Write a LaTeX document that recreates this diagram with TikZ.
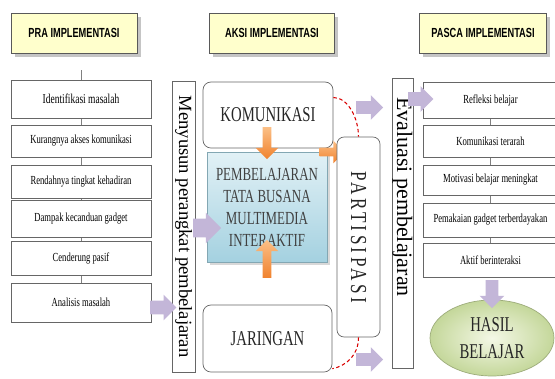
\documentclass[tikz,border=0pt]{standalone}
\usepackage{graphicx}
\usepackage{fontspec}
\setmainfont{Liberation Serif}
\newfontfamily\narrowrm[FakeStretch=0.7]{Liberation Serif}
\newfontfamily\headsf[FakeStretch=0.7]{Liberation Sans}
\newfontfamily\partrm[FakeStretch=0.75,LetterSpace=15]{Liberation Serif}
\usetikzlibrary{shapes.geometric, shapes.arrows, shadows, backgrounds, positioning, calc}

\definecolor{headfill}{HTML}{FFFFCC}
\definecolor{lavdark}{HTML}{C3B6D8}
\definecolor{lavlight}{HTML}{EEEAF5}
\definecolor{orlight}{HTML}{FBBF86}
\definecolor{ordark}{HTML}{F0822E}
\definecolor{pembtop}{HTML}{E2F1F6}
\definecolor{pembbot}{HTML}{A4D1E0}
\definecolor{hasilin}{HTML}{F4F8E6}
\definecolor{hasilout}{HTML}{C4D79A}

\begin{document}
\begin{tikzpicture}[
  x=0.02cm, y=-0.02cm,
  head/.style={draw=black!65, fill=headfill, minimum height=0.8cm, inner sep=1pt,
    font=\headsf\bfseries\fontsize{7.5}{9}\selectfont,
    drop shadow={shadow xshift=2pt, shadow yshift=-2pt, fill=black!45}},
  item/.style={draw=black!60, fill=white, inner sep=1pt, font=\narrowrm\fontsize{7}{8}\selectfont},
  side/.style={draw=black!60, fill=white, inner sep=0pt, font=\fontsize{10.6}{12}\selectfont},
  bigbox/.style={draw=black!60, fill=white, rounded corners=4.5pt, align=center, text=black!85,
    font=\narrowrm\fontsize{12}{13}\selectfont},
  lavarrow/.style={single arrow, draw=none, inner sep=#1, single arrow head extend=0.12cm,
    top color=lavdark, middle color=lavlight, bottom color=lavdark},
  orarrow/.style={single arrow, draw=none, inner sep=0.08cm, single arrow head extend=0.14cm,
    top color=orlight, bottom color=ordark},
  link/.style={draw=black!50, thin},
  flow/.style={red!85!black, dash pattern=on 2pt off 1.5pt, line width=0.6pt},
]
\useasboundingbox (0,0) rectangle (555,379);

% headers
\node[head, minimum width=2.52cm] (hpra) at (74,33) {PRA IMPLEMENTASI};
\node[head, minimum width=2.5cm] (haksi) at (272,33) {AKSI IMPLEMENTASI};
\node[head, minimum width=2.54cm] (hpasca) at (483,33) {PASCA IMPLEMENTASI};

% pra implementasi
\coordinate (ptop) at (81,70);
\node[item, minimum width=2.8cm, minimum height=0.76cm, font=\narrowrm\fontsize{7.7}{8}\selectfont] (p1) at (81,99) {Identifikasi masalah};
\node[item, minimum width=2.8cm, minimum height=0.64cm] (p2) at (81,141) {Kurangnya akses komunikasi};
\node[item, minimum width=2.8cm, minimum height=0.66cm] (p3) at (81,181.5) {Rendahnya tingkat kehadiran};
\node[item, minimum width=2.8cm, minimum height=0.74cm] (p4) at (81,218.5) {Dampak kecanduan gadget};
\node[item, minimum width=2.8cm, minimum height=0.68cm] (p5) at (81,258) {Cenderung pasif};
\node[item, minimum width=2.8cm, minimum height=0.78cm] (p6) at (81,302.5) {Analisis masalah};
\node[side, minimum width=0.46cm, minimum height=5.82cm] (menyusun) at (183.5,226.5)
  {\rotatebox{-90}{Menyusun perangkat pembelajaran}};
\node[lavarrow=0.13cm, minimum height=0.52cm] (pa1) at (160,307.5) {};

% aksi implementasi
\node[bigbox, minimum width=2.6cm, minimum height=1.32cm] (kom) at (268,115) {KOMUNIKASI};
\node[draw=pembbot!80!black, top color=pembtop, bottom color=pembbot, minimum width=2.4cm,
  minimum height=2.2cm, align=center, text=black!75,
  font=\narrowrm\fontsize{10.5}{12.5}\selectfont,
  drop shadow={shadow xshift=1.5pt, shadow yshift=-1.5pt, fill=black!30}] (pemb) at (267,207)
  {PEMBELAJARAN\\TATA BUSANA\\MULTIMEDIA\\INTERAKTIF};
\node[bigbox, minimum width=2.58cm, minimum height=1.34cm] (jar) at (267.5,338.5) {JARINGAN};
\node[lavarrow=0.18cm, minimum height=0.5cm] (pa2) at (202.5,228) {};
\node[orarrow, minimum height=0.64cm, rotate=-90] (oa1) at (267,141) {};
\node[orarrow, minimum height=0.76cm, rotate=90] (oa2) at (267,261) {};
\node[orarrow, minimum height=0.5cm] (oa3) at (330,152) {};
\node[draw=black!60, fill=white, rounded corners=4pt, minimum width=0.86cm, minimum height=4cm,
  inner sep=0pt, text=black!85, font=\partrm\fontsize{13}{14}\selectfont] (part) at (358.5,237)
  {\rotatebox{-90}{PARTISIPASI}};
\draw[flow] (kom.15) .. controls +(15,0) and +(0,-18) .. (part.north);
\draw[flow] (part.south) .. controls +(0,18) and +(14,-3) .. (jar.-25);
\node[lavarrow=0.12cm, minimum height=0.54cm] (pa3) at (366.5,107.5) {};
\node[lavarrow=0.12cm, minimum height=0.54cm] (pa4) at (366.5,359.5) {};

% pasca implementasi
\node[side, minimum width=0.42cm, minimum height=5.8cm, font=\fontsize{12.5}{13}\selectfont] (eval) at (402.5,223)
  {\rotatebox{-90}{Evaluasi pembelajaran\hspace{1.04cm}}};
\node[item, minimum width=2.7cm, minimum height=0.72cm] (r1) at (490.5,100) {Refleksi belajar};
\node[item, minimum width=2.7cm, minimum height=0.64cm] (r2) at (490.5,141) {Komunikasi terarah};
\node[item, minimum width=2.7cm, minimum height=0.6cm] (r3) at (490.5,180) {Motivasi belajar meningkat};
\node[item, minimum width=2.7cm, minimum height=0.68cm] (r4) at (490.5,220) {Pemakaian gadget terberdayakan};
\node[item, minimum width=2.7cm, minimum height=0.68cm] (r5) at (490.5,260) {Aktif berinteraksi};
\node[lavarrow=0.13cm, minimum height=0.5cm] (pa5) at (417.5,99) {};
\node[ellipse, draw=hasilout!80!black, inner color=hasilin, outer color=hasilout,
  minimum width=2.48cm, minimum height=1.52cm, align=center, inner sep=0pt, text=black!85,
  font=\narrowrm\fontsize{12}{15}\selectfont] (hasil) at (492,338) {HASIL\\BELAJAR};
\node[lavarrow=0.12cm, minimum height=0.56cm, rotate=-90] (pa6) at (492,291) {};

\begin{scope}[on background layer]
  \draw[link] (ptop) -- (p6);
  \draw[link] (r1) -- (r5);
\end{scope}
\end{tikzpicture}
\end{document}
